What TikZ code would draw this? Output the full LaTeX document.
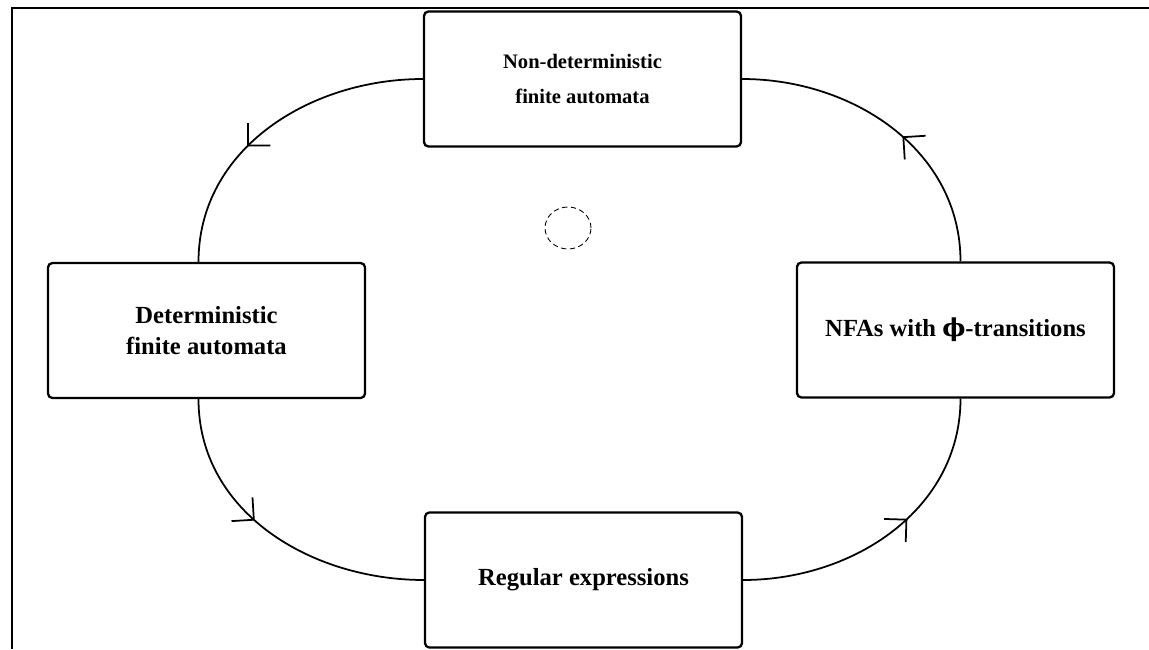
\documentclass[tikz,border=0pt]{standalone}
\usepackage{fontspec}
\setmainfont{Liberation Serif}
\newfontfamily\greekfont{DejaVu Serif}
\usetikzlibrary{arrows.meta,decorations.markings}

\tikzset{
  automaton/.style={draw, line width=1.3pt, rounded corners=2.5pt,
    minimum width=6.34cm, minimum height=2.7cm, inner sep=0pt, align=center,
    font=\bfseries\fontsize{14}{18}\selectfont},
  conv/.style={line width=1pt},
  arrowat/.style={postaction={decorate, decoration={markings,
    mark=at position #1 with {\arrow{Straight Barb[length=9pt, width=18pt, line width=1pt]}}}}}
}

\begin{document}
\begin{tikzpicture}
	\useasboundingbox (0,0) rectangle (22.98,12.98);
	\draw[line width=1.7pt] (0.24,0) -- (0.24,12.82) -- (22.98,12.82);
	\node[automaton, font=\bfseries\fontsize{11.7}{19.8}\selectfont] (nfa) at (11.65,11.40) {Non-deterministic\\finite automata};
	\node[automaton] (dfa) at (4.13,6.37) {Deterministic\\finite automata};
	\node[automaton] (enfa) at (19.11,6.38) {NFAs with {\greekfont ϕ}-transitions};
	\node[automaton] (regex) at (11.67,1.38) {Regular expressions};
	\draw[conv, arrowat=0.6] (nfa.west) to[out=180, in=90] ([xshift=-0.16cm]dfa.north);
	\draw[conv, arrowat=0.45] ([xshift=0.1cm]enfa.north) to[out=90, in=0] (nfa.east);
	\draw[conv, arrowat=0.57] (regex.east) to[out=0, in=-90] ([xshift=0.1cm]enfa.south);
	\draw[conv, arrowat=0.43] ([xshift=-0.16cm]dfa.south) to[out=-90, in=180] (regex.west);
	\draw[line width=0.5pt, dash pattern=on 3pt off 2pt] (11.36,8.42) ellipse (0.46cm and 0.42cm);
\end{tikzpicture}
\end{document}
